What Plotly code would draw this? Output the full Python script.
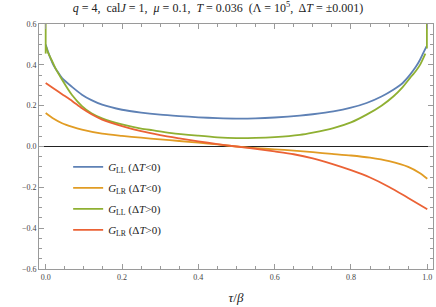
import plotly.graph_objects as go

# ---- data ----
t_blue = [0.0, 0.007, 0.013, 0.02, 0.03, 0.043, 0.069, 0.095, 0.12, 0.148, 0.2, 0.25, 0.3, 0.35, 0.4, 0.45, 0.5,
          0.55, 0.6, 0.666, 0.7, 0.754, 0.8, 0.841, 0.88, 0.911, 0.935, 0.955, 0.97, 0.981, 0.99, 0.998]
g_ll_neg = [0.50, 0.46, 0.43, 0.40, 0.37, 0.335, 0.292, 0.254, 0.227, 0.205, 0.18, 0.166, 0.156, 0.149, 0.143, 0.139, 0.137,
            0.138, 0.142, 0.151, 0.158, 0.172, 0.19, 0.213, 0.245, 0.278, 0.31, 0.352, 0.39, 0.425, 0.46, 0.49]

t_green = [0.001, 0.005, 0.01, 0.0165, 0.025, 0.043, 0.069, 0.095, 0.12, 0.148, 0.2, 0.25, 0.279, 0.33, 0.4, 0.45, 0.5,
           0.55, 0.6, 0.666, 0.7, 0.754, 0.8, 0.841, 0.88, 0.911, 0.935, 0.955, 0.97, 0.981, 0.995]
g_ll_pos = [0.49, 0.465, 0.445, 0.42, 0.385, 0.327, 0.252, 0.198, 0.163, 0.138, 0.108, 0.088, 0.08, 0.066, 0.053, 0.045, 0.041,
            0.042, 0.046, 0.057, 0.068, 0.09, 0.118, 0.156, 0.2, 0.245, 0.29, 0.336, 0.37, 0.40, 0.455]
# boundary spikes of G_LL (ΔT>0)
spike_left_t = [0.0, 0.0]
spike_left_v = [0.455, 0.62]
spike_right_t = [0.999, 0.999]
spike_right_v = [0.48, 0.62]

t_red = [0.0, 0.02, 0.043, 0.07, 0.095, 0.12, 0.148, 0.2, 0.25, 0.3, 0.35, 0.4, 0.45, 0.5,
         0.55, 0.6, 0.65, 0.7, 0.75, 0.8, 0.85, 0.9, 0.95, 1.0]
g_lr_pos = [0.311, 0.285, 0.256, 0.222, 0.187, 0.158, 0.132, 0.1, 0.075, 0.056, 0.04, 0.025, 0.012, 0.0,
            -0.011, -0.024, -0.038, -0.058, -0.085, -0.116, -0.152, -0.198, -0.252, -0.307]

t_orange = [0.0, 0.02, 0.043, 0.07, 0.095, 0.148, 0.2, 0.25, 0.3, 0.35, 0.4, 0.45, 0.5,
            0.55, 0.6, 0.65, 0.7, 0.75, 0.8, 0.85, 0.9, 0.95, 0.98, 1.0]
g_lr_neg = [0.164, 0.137, 0.114, 0.096, 0.083, 0.063, 0.052, 0.043, 0.035, 0.027, 0.019, 0.01, 0.0,
            -0.008, -0.014, -0.02, -0.028, -0.036, -0.044, -0.055, -0.072, -0.1, -0.13, -0.158]

names = ["<i>G</i><sub>LL</sub> (Δ<i>T</i>&lt;0)",
         "<i>G</i><sub>LR</sub> (Δ<i>T</i>&lt;0)",
         "<i>G</i><sub>LL</sub> (Δ<i>T</i>&gt;0)",
         "<i>G</i><sub>LR</sub> (Δ<i>T</i>&gt;0)"]
colors = ["#5E81B5", "#E19C24", "#8FB032", "#EB6235"]

x_ticks = [0.0, 0.2, 0.4, 0.6, 0.8, 1.0]
y_ticks = [-0.6, -0.4, -0.2, 0.0, 0.2, 0.4, 0.6]

serif = "Liberation Serif"

fig = go.Figure()
lw = 1.8
spl = dict(shape="spline", smoothing=0.7)
fig.add_trace(go.Scatter(x=t_blue, y=g_ll_neg, mode="lines", name=names[0], legendgroup="a",
                         line=dict(color=colors[0], width=lw, **spl)))
fig.add_trace(go.Scatter(x=t_orange, y=g_lr_neg, mode="lines", name=names[1], legendgroup="b",
                         line=dict(color=colors[1], width=lw, **spl)))
fig.add_trace(go.Scatter(x=t_green, y=g_ll_pos, mode="lines", name=names[2], legendgroup="c",
                         line=dict(color=colors[2], width=lw, **spl)))
fig.add_trace(go.Scatter(x=spike_left_t, y=spike_left_v, mode="lines", showlegend=False, legendgroup="c",
                         line=dict(color=colors[2], width=lw)))
fig.add_trace(go.Scatter(x=spike_right_t, y=spike_right_v, mode="lines", showlegend=False, legendgroup="c",
                         line=dict(color=colors[2], width=lw)))
fig.add_trace(go.Scatter(x=t_red, y=g_lr_pos, mode="lines", name=names[3], legendgroup="d",
                         line=dict(color=colors[3], width=lw, **spl)))

axis_common = dict(showline=True, linecolor="#9a9a9a", linewidth=1, mirror="ticks",
                   ticks="inside", ticklen=5, tickcolor="#9a9a9a", tickwidth=1,
                   showgrid=False, tickfont=dict(family=serif, size=8, color="#444"),
                   tickformat=".1f",
                   minor=dict(ticks="inside", ticklen=3, dtick=0.05, tickcolor="#9a9a9a", showgrid=False))

fig.update_xaxes(range=[-0.0175, 1.015], tickvals=x_ticks, zeroline=False,
                 title=dict(text="<i>τ</i>/<i>β</i>", font=dict(family=serif, size=13, color="#222"), standoff=12),
                 **axis_common)
fig.update_yaxes(range=[-0.6, 0.6], tickvals=y_ticks, zeroline=True, zerolinecolor="#222", zerolinewidth=1,
                 **axis_common)

fig.update_layout(
    width=436, height=307,
    margin=dict(l=39, r=3, t=24, b=38),
    paper_bgcolor="white", plot_bgcolor="white",
    font=dict(family=serif),
    title=dict(text="<i>q</i> = 4,  cal<i>J</i> = 1,  <i>μ</i> = 0.1,  <i>T</i> = 0.036  (Λ = 10<sup>5</sup>,  Δ<i>T</i> = ±0.001)",
               x=0.5, xanchor="center", y=0.975, yanchor="middle",
               font=dict(family=serif, size=12, color="#222")),
    legend=dict(x=0.074, y=0.476, xanchor="left", yanchor="top", bgcolor="rgba(0,0,0,0)",
                font=dict(family=serif, size=11, color="#222"), tracegroupgap=2, itemwidth=30),
    showlegend=True,
)

fig.write_html("out.html", config={"displayModeBar": False},
               post_script="document.body.style.margin='0';document.body.style.overflow='hidden';")
